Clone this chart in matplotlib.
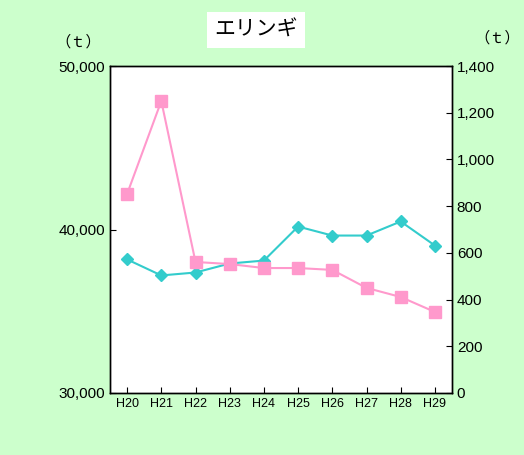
import matplotlib
matplotlib.use("Agg")
import matplotlib.pyplot as plt

plt.rcParams['font.family'] = ['Noto Sans CJK JP', 'DejaVu Sans']

years = ["H20","H21","H22","H23","H24","H25","H26","H27","H28","H29"]
teal = [38170, 37190, 37370, 37920, 38100, 40180, 39630, 39630, 40490, 39020]
pink = [852, 1250, 561, 552, 535, 535, 527, 450, 411, 347]

fig = plt.figure(figsize=(5.24, 4.55), dpi=100)
fig.patch.set_facecolor('#CCFFCC')
ax = fig.add_axes([110/524, 1-393/455, 342/524, 327/455])
ax.set_facecolor('white')
x = range(len(years))
ax.plot(x, teal, color='#33CCCC', marker='D', markersize=6, lw=1.5)
ax.set_ylim(30000, 50000)
ax.set_yticks([30000, 40000, 50000])
ax.set_yticklabels(['30,000', '40,000', '50,000'], family='Liberation Sans', fontsize=11)
ax.set_xlim(-0.5, 9.5)
ax.set_xticks(list(x))
ax.set_xticklabels(years, family='Liberation Sans', fontsize=9)
ax2 = ax.twinx()
ax2.plot(x, pink, color='#FF99CC', marker='s', markersize=8, lw=1.5)
ax2.set_ylim(0, 1400)
ax2.set_yticks(range(0, 1401, 200))
ax2.set_yticklabels([f"{v:,}" for v in range(0, 1401, 200)], family='Liberation Sans', fontsize=11)
for a in (ax, ax2):
    a.tick_params(direction='in', length=4)
    for s in a.spines.values():
        s.set_color('black'); s.set_linewidth(1)
fig.text(256/524, 1-30/455, 'エリンギ', ha='center', va='center', fontsize=15,
         bbox=dict(facecolor='white', edgecolor='none', pad=5))
fig.text(78/524, 1-42/455, '（ｔ）', ha='center', va='center', fontsize=11)
fig.text(497/524, 1-38/455, '（ｔ）', ha='center', va='center', fontsize=11)
fig.savefig('out.png', dpi=100, facecolor=fig.get_facecolor())
